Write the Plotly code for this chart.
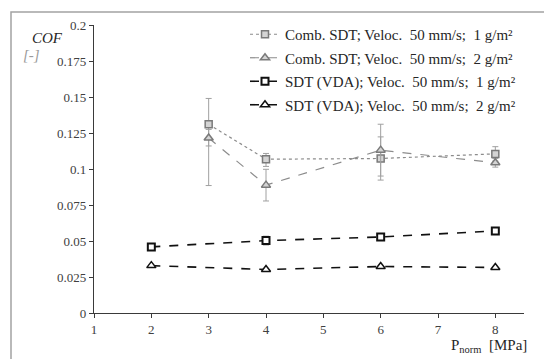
import plotly.graph_objects as go

# Normal pressure [MPa]
p_comb = [3, 4, 6, 8]
p_vda = [2, 4, 6, 8]

# Coefficient of friction
cof_comb_1 = [0.131, 0.1068, 0.1073, 0.1105]
cof_comb_1_plus = [0.018, 0.004, 0.015, 0.005]
cof_comb_1_minus = [0.015, 0.005, 0.015, 0.005]

cof_comb_2 = [0.1215, 0.0888, 0.1131, 0.1043]
cof_comb_2_plus = [0.006, 0.011, 0.018, 0.003]
cof_comb_2_minus = [0.033, 0.011, 0.018, 0.003]

cof_vda_1 = [0.0459, 0.0503, 0.0528, 0.0570]
cof_vda_1_err = [0.001, 0.003, 0.001, 0.001]
cof_vda_2 = [0.0329, 0.0302, 0.0323, 0.0316]

names = [
    "Comb. SDT; Veloc.\u00a0 50 mm/s;\u00a0 1 g/m²",
    "Comb. SDT; Veloc.\u00a0 50 mm/s;\u00a0 2 g/m²",
    "SDT (VDA); Veloc.\u00a0 50 mm/s;\u00a0 1 g/m²",
    "SDT (VDA); Veloc.\u00a0 50 mm/s;\u00a0 2 g/m²",
]

FONT = "Liberation Serif"
GRAY = "#8c8c8c"

fig = go.Figure()

fig.add_trace(go.Scatter(
    x=p_comb, y=cof_comb_1, name=names[0], mode="lines+markers", legendgroup="a",
    line=dict(color=GRAY, width=1.2, dash="dot"),
    marker=dict(symbol="square", size=7, color="#d4d4d4", line=dict(color="#7a7a7a", width=1.5)),
    error_y=dict(type="data", array=cof_comb_1_plus, arrayminus=cof_comb_1_minus,
                 color="#a0a0a0", thickness=1, width=3),
))
fig.add_trace(go.Scatter(
    x=p_comb, y=cof_comb_2, name=names[1], mode="lines+markers", legendgroup="b",
    line=dict(color=GRAY, width=1.2, dash="dash"),
    marker=dict(symbol="triangle-up", size=8, color="#d4d4d4", line=dict(color="#7a7a7a", width=1.5)),
    error_y=dict(type="data", array=cof_comb_2_plus, arrayminus=cof_comb_2_minus,
                 color="#a0a0a0", thickness=1, width=3),
))
fig.add_trace(go.Scatter(
    x=p_vda, y=cof_vda_1, name=names[2], mode="lines+markers", legendgroup="c",
    line=dict(color="#111111", width=1.6, dash="dash"),
    marker=dict(symbol="square", size=7, color="#ffffff", line=dict(color="#111111", width=2)),
    error_y=dict(type="data", array=cof_vda_1_err, color="#808080", thickness=1, width=3),
))
fig.add_trace(go.Scatter(
    x=p_vda, y=cof_vda_2, name=names[3], mode="lines+markers", legendgroup="d",
    line=dict(color="#111111", width=1.6, dash="dash"),
    marker=dict(symbol="triangle-up", size=8, color="#ffffff", line=dict(color="#111111", width=1.5)),
))

L, R, T, B = 94, 20, 25, 46
W, H = 544, 359
pw, ph = W - L - R, H - T - B

def px_x(px):
    return (px - L) / pw

def px_y(py):
    return 1 - (py - T) / ph

axis_common = dict(
    showgrid=False, zeroline=False, showline=True, linecolor="#3a3a3a", linewidth=1.2,
    ticks="outside", ticklen=4, tickcolor="#3a3a3a",
    tickfont=dict(family=FONT, size=13, color="#404040"),
)

fig.update_layout(
    width=W, height=H,
    margin=dict(l=L, r=R, t=T, b=B),
    paper_bgcolor="white", plot_bgcolor="white",
    font=dict(family=FONT, color="#262626"),
    xaxis=dict(range=[1, 8.5], tickvals=[1, 2, 3, 4, 5, 6, 7, 8], **axis_common),
    yaxis=dict(range=[0, 0.2], tickvals=[0, 0.025, 0.05, 0.075, 0.1, 0.125, 0.15, 0.175, 0.2],
               ticktext=["0", "0.025", "0.05", "0.075", "0.1", "0.125", "0.15", "0.175", "0.2"],
               **axis_common),
    legend=dict(
        x=px_x(245), y=px_y(18), xanchor="left", yanchor="top",
        font=dict(family=FONT, size=15, color="#262626"),
        bgcolor="rgba(0,0,0,0)", tracegroupgap=1, itemwidth=30,
    ),
    showlegend=True,
)

# outer frame
fig.add_shape(type="rect", xref="paper", yref="paper",
              x0=px_x(11), x1=px_x(600), y0=px_y(12), y1=px_y(420),
              line=dict(color="#a3a3a3", width=1.5), fillcolor="rgba(0,0,0,0)", layer="below")

# axis arrowheads
fig.add_annotation(x=8.52, y=0, xref="x", yref="y", ax=-8, ay=0, axref="pixel", ayref="pixel",
                   showarrow=True, arrowhead=2, arrowsize=1, arrowwidth=1.2, arrowcolor="#1a1a1a", text="")
fig.add_annotation(x=1, y=0.2015, xref="x", yref="y", ax=0, ay=8, axref="pixel", ayref="pixel",
                   showarrow=True, arrowhead=2, arrowsize=1, arrowwidth=1.2, arrowcolor="#1a1a1a", text="")

# axis titles
fig.add_annotation(text="<i>COF</i>", xref="paper", yref="paper", x=px_x(30), y=px_y(28),
                   showarrow=False, font=dict(family=FONT, size=15, color="#262626"))
fig.add_annotation(text="<i>[-]</i>", xref="paper", yref="paper", x=px_x(21), y=px_y(45),
                   showarrow=False, font=dict(family=FONT, size=15, color="#9a9a9a"))
fig.add_annotation(text="P<sub>norm</sub>\u00a0 [MPa]", xref="paper", yref="paper",
                   x=px_x(529), y=px_y(346), xanchor="right", yanchor="middle",
                   showarrow=False, font=dict(family=FONT, size=15, color="#262626"))

fig.write_html("out.html")
